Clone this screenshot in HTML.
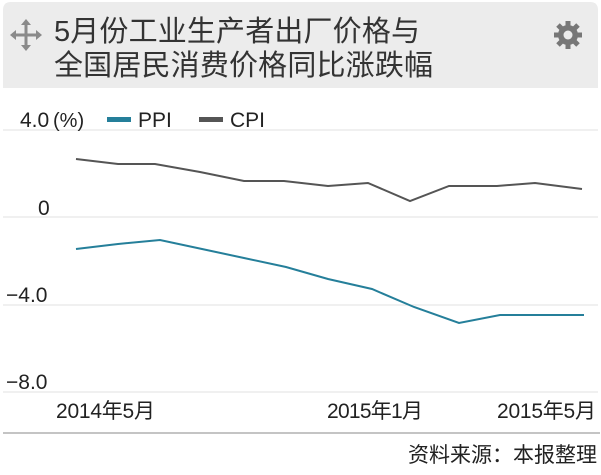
<!DOCTYPE html>
<html><head><meta charset="utf-8"><style>
body{margin:0;width:601px;height:470px;background:#fff;overflow:hidden;font-family:"Liberation Sans","Noto Sans CJK SC",sans-serif;}
</style></head><body>
<svg width="601" height="470" xmlns="http://www.w3.org/2000/svg" font-family="Liberation Sans, Noto Sans CJK SC, sans-serif">
<path d="M3,88 V10 Q3,2 11,2 H590 Q598,2 598,10 V88 Z" fill="#ececec"/>
<g stroke="#8a8a8a" stroke-width="3" fill="#8a8a8a">
<line x1="13" y1="35" x2="39" y2="35"/><line x1="26" y1="22" x2="26" y2="48"/>
</g>
<g fill="#8a8a8a">
<polygon points="10,35 16,30 16,40"/><polygon points="42,35 36,30 36,40"/>
<polygon points="26,19 21,25 31,25"/><polygon points="26,51 21,45 31,45"/>
</g>
<g fill="#777">
<circle cx="568" cy="35" r="10"/>
<g stroke="#777" stroke-width="5">
<line x1="568" y1="21" x2="568" y2="49"/><line x1="554" y1="35" x2="582" y2="35"/>
<line x1="558" y1="25" x2="578" y2="45"/><line x1="578" y1="25" x2="558" y2="45"/>
</g>
<circle cx="568" cy="35" r="4.5" fill="#ececec"/>
</g>
<text x="54" y="41" font-size="29" fill="#333" textLength="366">5月份工业生产者出厂价格与</text>
<text x="54" y="75" font-size="29" fill="#333" textLength="379">全国居民消费价格同比涨跌幅</text>
<g stroke="#e2e2e2" stroke-width="1">
<line x1="3" y1="130" x2="598" y2="130"/><line x1="3" y1="217" x2="598" y2="217"/>
<line x1="3" y1="305" x2="598" y2="305"/><line x1="3" y1="392" x2="598" y2="392"/>
</g>
<line x1="3" y1="433" x2="600" y2="433" stroke="#888" stroke-width="1"/>
<g font-size="21" fill="#222">
<text x="20" y="127">4.0</text><text x="53" y="127" font-size="20">(%)</text>
<text x="38" y="215">0</text>
<text x="6" y="302">−4.0</text>
<text x="6" y="389">−8.0</text>
<text x="56" y="418" textLength="99">2014年5月</text>
<text x="327" y="418" textLength="96">2015年1月</text>
<text x="497" y="418" textLength="99">2015年5月</text>
<text x="597" y="462" text-anchor="end">资料来源：本报整理</text>
<text x="138" y="127">PPI</text><text x="230" y="127">CPI</text>
</g>
<rect x="107" y="117" width="24" height="5" fill="#257f9a"/>
<rect x="199" y="117" width="24" height="5" fill="#555"/>
<polyline fill="none" stroke="#555" stroke-width="2" points="76,159 118,164 155,164 200,172 244,181 284,181 328,186 368,183 410,201 449,186 497,186 535,183 582,189"/>
<polyline fill="none" stroke="#257f9a" stroke-width="2" points="76,249 118,244 160,240 202,249 244,258 286,267 328,279 372,289 414,307 459,323 500,315 540,315 584,315"/>
</svg>
</body></html>
